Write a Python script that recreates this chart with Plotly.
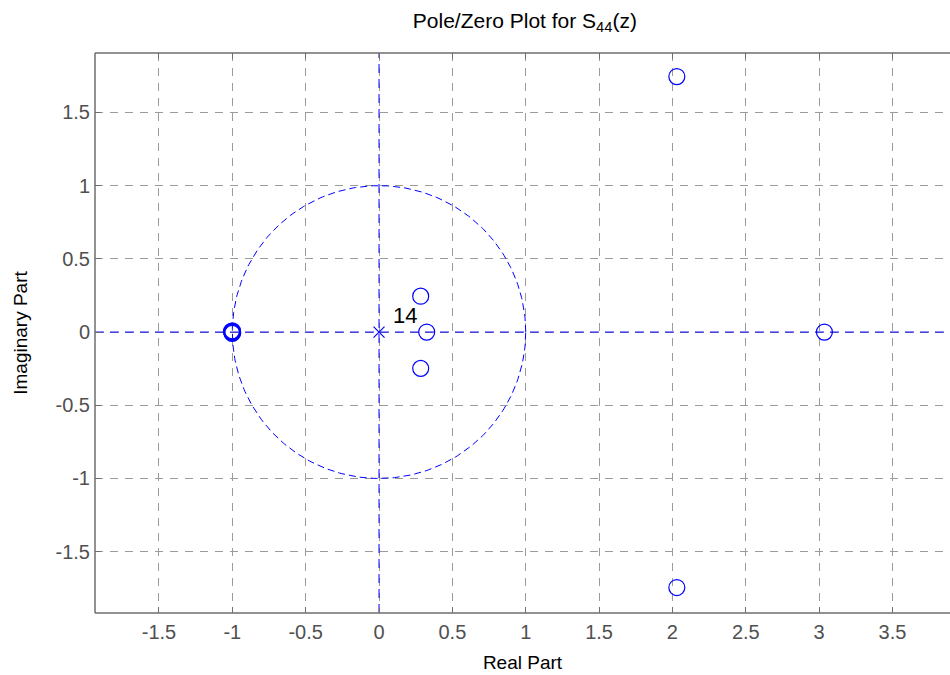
import numpy as np
import plotly.graph_objects as go

# Zeros of S44(z) (real, imaginary)
zero_re = [-1.006, -0.997, -1.001, -1.004, -0.999, 0.284, 0.325, 0.284, 2.03, 2.03, 3.036]
zero_im = [0.005, -0.004, -0.009, 0.0, 0.008, 0.245, 0.0, -0.248, 1.745, -1.745, 0.0]

# Poles: 14 at the origin
pole_re = [0.0]
pole_im = [0.0]
pole_mult = 14

x_ticks = [-1.5, -1.0, -0.5, 0.0, 0.5, 1.0, 1.5, 2.0, 2.5, 3.0, 3.5]
x_labels = ["-1.5", "-1", "-0.5", "0", "0.5", "1", "1.5", "2", "2.5", "3", "3.5"]
y_ticks = [-1.5, -1.0, -0.5, 0.0, 0.5, 1.0, 1.5]
y_labels = ["-1.5", "-1", "-0.5", "0", "0.5", "1", "1.5"]

x_range = [-1.936, 3.892]
y_range = [-1.919, 1.906]

BLUE = "rgb(0,0,255)"
GRID = "rgb(155,155,155)"
AX = "rgb(110,110,110)"
FONT = "Liberation Sans, Arial, sans-serif"

fig = go.Figure()

# unit circle reference
t = np.linspace(0, 2 * np.pi, 400)
fig.add_trace(go.Scatter(x=np.cos(t), y=np.sin(t), mode="lines",
                         line=dict(color=BLUE, width=1, dash="7px,4px"),
                         hoverinfo="skip"))
# real and imaginary axes
fig.add_trace(go.Scatter(x=x_range, y=[0, 0], mode="lines",
                         line=dict(color=BLUE, width=1, dash="9px,6px"),
                         hoverinfo="skip"))
fig.add_trace(go.Scatter(x=[0, 0], y=y_range, mode="lines",
                         line=dict(color=BLUE, width=1, dash="9px,6px"),
                         hoverinfo="skip"))

# zeros
fig.add_trace(go.Scatter(x=zero_re, y=zero_im, mode="markers",
                         marker=dict(symbol="circle-open", size=16,
                                     color=BLUE, line=dict(width=1.2, color=BLUE)),
                         name="Zeros"))
# poles
fig.add_trace(go.Scatter(x=pole_re, y=pole_im, mode="markers",
                         marker=dict(symbol="x-thin-open", size=11,
                                     color=BLUE, line=dict(width=1.2, color=BLUE)),
                         name="Poles"))

fig.add_annotation(x=pole_re[0] + 0.08, y=pole_im[0] + 0.11, text=str(pole_mult),
                   showarrow=False, xanchor="left", yanchor="middle",
                   font=dict(family=FONT, size=22, color="black"))

# plot frame: left, bottom, top
for x0, y0, x1, y1 in [(0, 0, 0, 1), (0, 0, 1, 0), (0, 1, 1, 1)]:
    fig.add_shape(type="line", xref="paper", yref="paper",
                  x0=x0, y0=y0, x1=x1, y1=y1,
                  line=dict(color=AX, width=1.5), layer="above")

fig.update_layout(
    width=950, height=675,
    margin=dict(l=95, r=0, t=53, b=62),
    paper_bgcolor="white", plot_bgcolor="white",
    showlegend=False,
    font=dict(family=FONT, color="rgb(80,80,80)"),
    title=dict(text="Pole/Zero Plot for S<sub>44</sub>(z)",
               x=0.5525, xanchor="center", y=0.97, yanchor="middle",
               font=dict(family=FONT, size=21, color="black")),
    xaxis=dict(range=x_range, tickvals=x_ticks, ticktext=x_labels,
               showgrid=True, gridcolor=GRID, griddash="8px,7px", gridwidth=1,
               zeroline=False, showline=False,
               ticks="inside", ticklen=6, tickcolor=AX, mirror="ticks",
               ticklabelstandoff=5,
               tickfont=dict(size=20, color="rgb(80,80,80)"),
               title=dict(text="Real Part", standoff=13,
                          font=dict(size=19, color="black"))),
    yaxis=dict(range=y_range, tickvals=y_ticks, ticktext=y_labels,
               showgrid=True, gridcolor=GRID, griddash="8px,7px", gridwidth=1,
               zeroline=False, showline=False,
               ticks="inside", ticklen=6, tickcolor=AX, mirror=False,
               ticklabelstandoff=4,
               tickfont=dict(size=20, color="rgb(80,80,80)"),
               title=dict(text="Imaginary Part", standoff=22,
                          font=dict(size=19, color="black"))),
)

fig.write_html("out.html")
